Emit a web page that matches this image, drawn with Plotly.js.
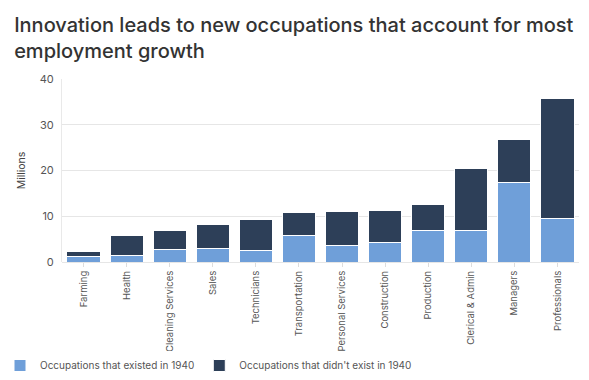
<!DOCTYPE html>
<html>
<head>
<meta charset="utf-8">
<script src="https://cdn.plot.ly/plotly-3.0.1.min.js"></script>
<style>html,body{margin:0;padding:0;background:#fff;}#chart{width:589px;height:380px;}</style>
</head>
<body>
<div id="chart"></div>
<script>
const categories = ["Farming","Health","Cleaning Services","Sales","Technicians","Transportation","Personal Services","Construction","Production","Clerical & Admin","Managers","Professionals"];
const existed1940 = [1.2, 1.5, 2.8, 3.0, 2.6, 5.7, 3.6, 4.2, 6.8, 6.9, 17.3, 9.5];
const newSince1940 = [1.0, 4.2, 4.1, 5.2, 6.8, 5.1, 7.4, 7.1, 5.8, 13.6, 9.5, 26.3];
const seriesNames = ["Occupations that existed in 1940", "Occupations that didn't exist in 1940"];
const yTicks = [0, 10, 20, 30, 40];

const font = "Inter, 'Noto Sans', sans-serif";
const traces = [
  {type:"bar", x:categories, y:existed1940, name:seriesNames[0],
   marker:{color:"#6f9fd9", line:{color:"#ffffff", width:1}}},
  {type:"bar", x:categories, y:newSince1940, name:seriesNames[1],
   marker:{color:"#2d3f58", line:{color:"#ffffff", width:1}}}
];
const layout = {
  width:589, height:380,
  barmode:"stack", bargap:0.23,
  margin:{l:62, r:10, t:79, b:118},
  paper_bgcolor:"#fff", plot_bgcolor:"#fff",
  font:{family:font, color:"#555"},
  title:{text:"Innovation leads to new occupations that account for most<br>employment growth",
         x:0.024, xref:"container", xanchor:"left", y:0.915, yref:"container", yanchor:"middle",
         font:{family:font, size:20, color:"#333", weight:500}},
  xaxis:{tickangle:-90, tickfont:{size:9.5, color:"#555"}, ticks:"outside", ticklen:4,
         tickcolor:"#ddd", showline:false, showgrid:false, automargin:false},
  yaxis:{range:[0,40], tickvals:yTicks, tickfont:{size:11, color:"#555"},
         gridcolor:"#e6e6e6", zeroline:true, zerolinecolor:"#e6e6e6", showline:true,
         linecolor:"#e9e9e9", ticks:"", ticklen:0, ticklabelstandoff:5,
         title:{text:"Millions", font:{size:10.5, color:"#444"}, standoff:12}, automargin:false},
  legend:{orientation:"h", x:0.0, xref:"container", y:-0.008, yref:"container", yanchor:"bottom",
          font:{size:10, color:"#555"}, traceorder:"normal", itemwidth:30},
  showlegend:true
};
Plotly.newPlot("chart", traces, layout, {staticPlot:true, displayModeBar:false});
</script>
</body>
</html>
